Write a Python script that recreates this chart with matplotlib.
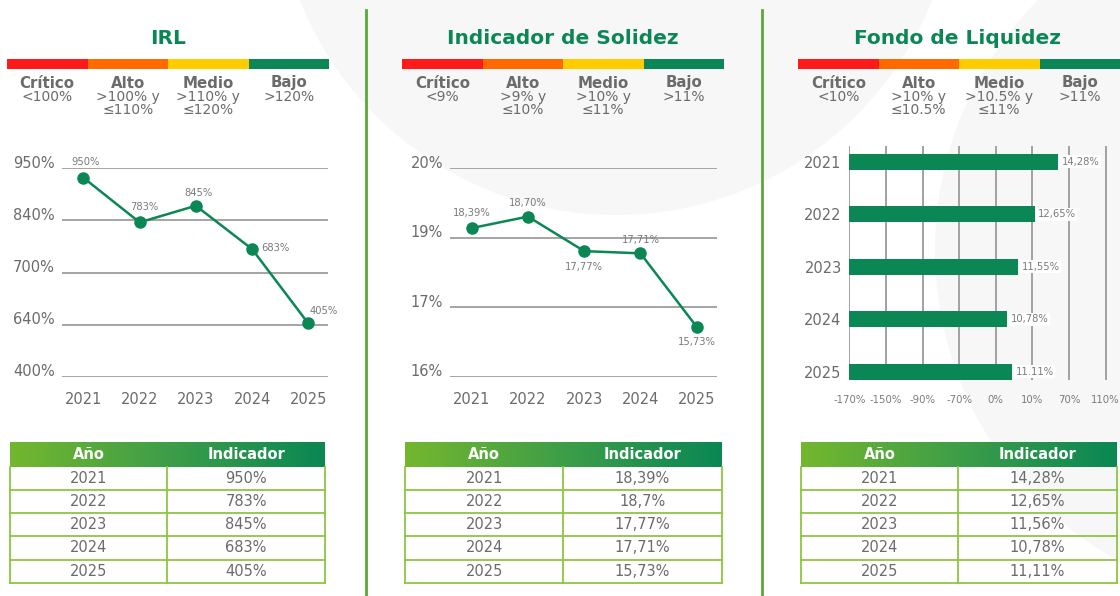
import numpy as np
import matplotlib
matplotlib.use('Agg')
import matplotlib.pyplot as plt
from matplotlib.patches import Circle, Rectangle
from matplotlib.transforms import blended_transform_factory, offset_copy

plt.rcParams['font.family'] = ['DejaVu Sans']

# ---- data ----
years = ['2021', '2022', '2023', '2024', '2025']
levels = ['Crítico', 'Alto', 'Medio', 'Bajo']
level_colors = ['#ff1a1a', '#ff6a00', '#ffcc00', '#0a8754']

irl_vals = [950, 783, 845, 683, 405]
irl_point_labels = ['950%', '783%', '845%', '683%', '405%']
irl_tick_labels = ['400%', '640%', '700%', '840%', '950%']
irl_ranges = ['<100%', '>100% y\n≤110%', '>110% y\n≤120%', '>120%']
irl_table = ['950%', '783%', '845%', '683%', '405%']

sol_vals = [18.39, 18.70, 17.77, 17.71, 15.73]
sol_point_labels = ['18,39%', '18,70%', '17,77%', '17,71%', '15,73%']
sol_tick_labels = ['16%', '17%', '19%', '20%']
sol_ranges = ['<9%', '>9% y\n≤10%', '>10% y\n≤11%', '>11%']
sol_table = ['18,39%', '18,7%', '17,77%', '17,71%', '15,73%']

liq_vals = [14.28, 12.65, 11.55, 10.78, 11.11]
liq_bar_labels = ['14,28%', '12,65%', '11,55%', '10,78%', '11.11%']
liq_tick_labels = ['-170%', '-150%', '-90%', '-70%', '0%', '10%', '70%', '110%']
liq_ranges = ['<10%', '>10% y\n≤10.5%', '>10.5% y\n≤11%', '>11%']
liq_table = ['14,28%', '12,65%', '11,56%', '10,78%', '11,11%']

W, H = 1120, 596
GREEN = '#0a8754'
GRAY = '#6b6b6b'
LGRAY = '#7a7a7a'

fig = plt.figure(figsize=(W / 100, H / 100), dpi=100)
fig.patch.set_facecolor('white')

# background axes in pixel coordinates (y down)
bg = fig.add_axes([0, 0, 1, 1], zorder=0)
bg.set_xlim(0, W)
bg.set_ylim(H, 0)
bg.axis('off')
bg.add_patch(Circle((616, -125), 340, color='#f7f7f7', lw=0))
bg.add_patch(Circle((1290, 250), 355, color='#f7f7f7', lw=0))

# separators
for sx in [366, 762]:
    bg.plot([sx, sx], [10, H], color='#5aa83a', lw=2)


def px_axes(x0, y0, x1, y1):
    ax = fig.add_axes([x0 / W, 1 - y1 / H, (x1 - x0) / W, (y1 - y0) / H], zorder=2)
    ax.set_facecolor('none')
    for s in ax.spines.values():
        s.set_visible(False)
    return ax


def header(title, cx, bx0, ranges):
    bg.text(cx, 38, title, ha='center', va='center', fontsize=14.5,
            fontweight='bold', color=GREEN)
    seg = 80.5
    for i, (lv, col, rg) in enumerate(zip(levels, level_colors, ranges)):
        bg.add_patch(Rectangle((bx0 + i * seg, 59), seg, 10, color=col, lw=0))
        c = bx0 + (i + 0.5) * seg
        bg.text(c, 83, lv, ha='center', va='center', fontsize=10.8,
                fontweight='bold', color=GRAY)
        bg.text(c, 90, rg, ha='center', va='top', fontsize=10,
                color=GRAY, linespacing=0.95)


def table(x0, xd, x1, values):
    y0, yh = 442, 466.7
    rh = 23.2
    grad = np.linspace(0, 1, 256).reshape(1, -1)
    cmap = matplotlib.colors.LinearSegmentedColormap.from_list('g', ['#74b72e', '#3d9e48', '#0a8754'])
    bg.imshow(grad, extent=[x0, x1, yh, y0], cmap=cmap, aspect='auto', zorder=1)
    bg.text((x0 + xd) / 2, (y0 + yh) / 2, 'Año', ha='center', va='center',
            fontsize=10.5, fontweight='bold', color='white', zorder=3)
    bg.text((xd + x1) / 2, (y0 + yh) / 2, 'Indicador', ha='center', va='center',
            fontsize=10.5, fontweight='bold', color='white', zorder=3)
    bc = '#8cc63f'
    yb = yh + rh * len(values)
    for i, (yr, v) in enumerate(zip(years, values)):
        ya = yh + i * rh
        bg.plot([x0, x1], [ya + rh, ya + rh], color=bc, lw=1.3, zorder=2)
        bg.text((x0 + xd) / 2, ya + rh / 2, yr, ha='center', va='center',
                fontsize=10.5, color=GRAY, zorder=3)
        bg.text((xd + x1) / 2, ya + rh / 2, v, ha='center', va='center',
                fontsize=10.5, color=GRAY, zorder=3)
    for xx in [x0, xd, x1]:
        bg.plot([xx, xx], [yh, yb], color=bc, lw=1.3, zorder=2)


def line_panel(x0, x1, vals, ticks, tick_labels, pt_labels, offsets):
    ax = px_axes(x0, 168.3, x1, 377)
    xs = np.arange(len(years))
    ax.set_xlim(-0.385, 4.355)
    ax.set_ylim(ticks[0], ticks[-1])
    ax.set_yticks(ticks)
    ax.set_yticklabels([])
    ax.tick_params(axis='y', length=0)
    ax.grid(axis='y', color='#a4a4a4', lw=1.4)
    ax.set_axisbelow(True)
    ax.set_xticks(xs)
    ax.set_xticklabels(years, fontsize=10.5, color=GRAY)
    ax.tick_params(axis='x', length=0, pad=11)
    ax.plot(xs, vals, color=GREEN, lw=1.8, marker='o', ms=8, clip_on=False, zorder=3)
    tr = offset_copy(blended_transform_factory(ax.transAxes, ax.transData), fig,
                     x=-7, y=5, units='dots')
    for t, lab in zip(ticks, tick_labels):
        ax.text(0, t, lab, transform=tr, ha='right', va='center', fontsize=10.5, color=GRAY)
    for x, v, lab, (dx, dy, ha) in zip(xs, vals, pt_labels, offsets):
        ax.annotate(lab, (x, v), xytext=(dx * 0.72, dy * 0.72), textcoords='offset points',
                    ha=ha, va='center', fontsize=7.2, color=LGRAY)
    return ax


# ---- IRL ----
header('IRL', 168, 7, irl_ranges)
line_panel(61.7, 328.3, irl_vals, np.linspace(205, 985, 5), irl_tick_labels, irl_point_labels,
           [(2, 16, 'center'), (5, 15, 'center'), (3, 13, 'center'), (9, 1, 'left'), (1, 12, 'left')])
table(10, 167.3, 325, irl_table)

# ---- Indicador de Solidez ----
header('Indicador de Solidez', 563, 402, sol_ranges)
line_panel(450, 716.7, sol_vals, np.linspace(14.38, 20.0, 4), sol_tick_labels, sol_point_labels,
           [(0, 15, 'center'), (0, 14, 'center'), (0, -16, 'center'), (0, 13, 'center'), (0, -15, 'center')])
table(405.3, 563, 721.7, sol_table)

# ---- Fondo de Liquidez ----
header('Fondo de Liquidez', 958, 798, liq_ranges)
ax = px_axes(849.3, 146, 1120, 380)
ys = np.arange(len(years))
ax.barh(ys, liq_vals, height=0.305, color=GREEN, zorder=3)
ax.set_xlim(0, 18.49)
ax.set_ylim(4.16, -0.305)
ax.set_xticks(np.arange(0, 17.6, 2.5))
ax.set_xticklabels(liq_tick_labels, fontsize=7.3, color=LGRAY)
ax.set_yticks(ys)
ax.set_yticklabels(years, fontsize=10.5, color=GRAY)
ax.tick_params(axis='both', length=0)
ax.tick_params(axis='x', pad=11)
ax.tick_params(axis='y', pad=5.5)
ax.grid(axis='x', color='#9a9a9a', lw=1.3)
ax.set_axisbelow(True)
for y, v, lab in zip(ys, liq_vals, liq_bar_labels):
    ax.annotate(lab, (v, y), xytext=(2.5, 0), textcoords='offset points', ha='left',
                va='center', fontsize=7.2, color=LGRAY, zorder=4,
                bbox=dict(boxstyle='square,pad=0.15', fc='white', ec='none'))
table(800.7, 958.3, 1116.7, liq_table)

fig.savefig('out.png', dpi=100, facecolor='white')
